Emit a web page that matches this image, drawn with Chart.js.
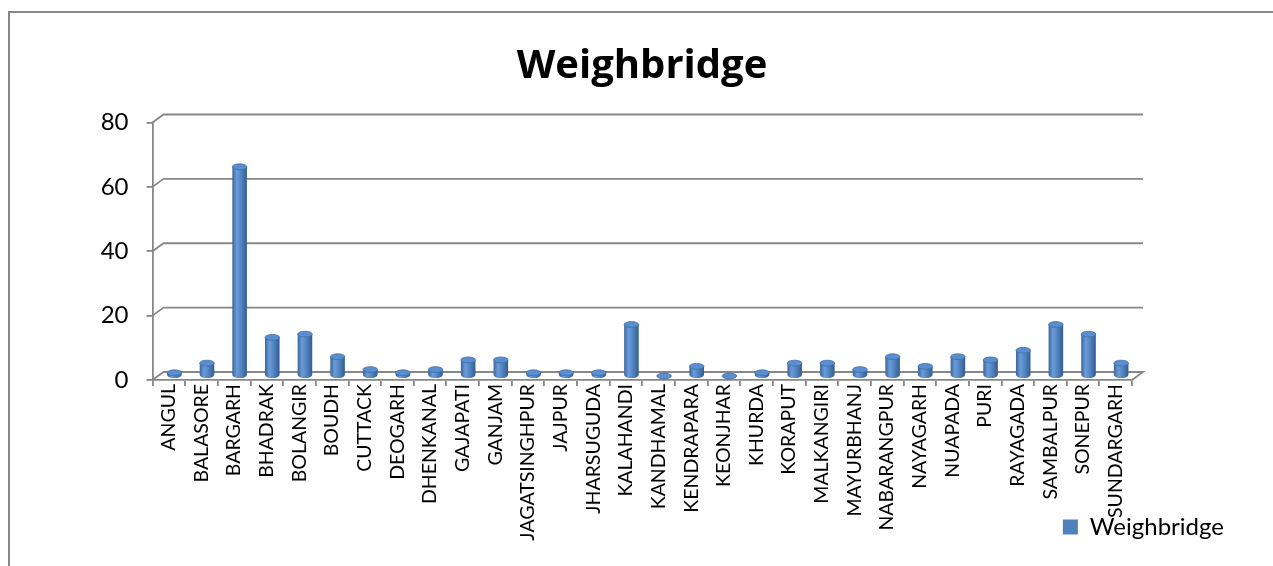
<!DOCTYPE html>
<html>
<head>
<meta charset="utf-8">
<script src="https://cdn.jsdelivr.net/npm/chart.js@4"></script>
<style>
  html, body { margin: 0; padding: 0; background: #fff; }
  #wrap { width: 1273px; height: 566px; position: relative; }
</style>
</head>
<body>
<div id="wrap"><canvas id="c" width="1273" height="566"></canvas></div>
<script>
// District names (Odisha) and number of weighbridges per district
const districts = [
  'ANGUL', 'BALASORE', 'BARGARH', 'BHADRAK', 'BOLANGIR', 'BOUDH', 'CUTTACK',
  'DEOGARH', 'DHENKANAL', 'GAJAPATI', 'GANJAM', 'JAGATSINGHPUR', 'JAJPUR',
  'JHARSUGUDA', 'KALAHANDI', 'KANDHAMAL', 'KENDRAPARA', 'KEONJHAR', 'KHURDA',
  'KORAPUT', 'MALKANGIRI', 'MAYURBHANJ', 'NABARANGPUR', 'NAYAGARH', 'NUAPADA',
  'PURI', 'RAYAGADA', 'SAMBALPUR', 'SONEPUR', 'SUNDARGARH'
];
const weighbridges = [
  1, 4, 65, 12, 13, 6, 2, 1, 2, 5, 5, 1, 1, 1, 16, 0, 3, 0, 1, 4,
  4, 2, 6, 3, 6, 5, 8, 16, 13, 4
];
const yTicks = [0, 20, 40, 60, 80];

const FONT = 'Lato';
const LINE = '#878787';
const DEPTH_X = 11, DEPTH_Y = -8;

// White page with the frame around the chart
const framePlugin = {
  id: 'frame',
  beforeDraw(chart) {
    const ctx = chart.ctx;
    ctx.save();
    ctx.fillStyle = '#ffffff';
    ctx.fillRect(0, 0, chart.width, chart.height);
    ctx.strokeStyle = LINE;
    ctx.lineWidth = 2;
    ctx.strokeRect(9, 12, chart.width + 20, chart.height + 20);
    ctx.restore();
  }
};

// The category labels hang below the axis box, over the legend band
const labelRoomPlugin = {
  id: 'labelRoom',
  afterLayout(chart) {
    chart.scales.x.bottom = chart.height;
  }
};

// Back wall gridlines and floor of the 3-D plot area
const wallPlugin = {
  id: 'wall',
  beforeDatasetsDraw(chart) {
    const ctx = chart.ctx;
    const y = chart.scales.y;
    const { left, right } = chart.chartArea;
    ctx.save();
    ctx.strokeStyle = LINE;
    ctx.lineWidth = 1.8;
    yTicks.forEach(v => {
      const py = y.getPixelForValue(v);
      ctx.beginPath();
      ctx.moveTo(left, py);
      ctx.lineTo(left + DEPTH_X, py + DEPTH_Y);
      ctx.lineTo(right + DEPTH_X, py + DEPTH_Y);
      if (v === 0) ctx.lineTo(right, py);
      ctx.stroke();
    });
    ctx.restore();
  }
};

// Columns rendered as shaded cylinders standing in the middle of the depth
const cylinderPlugin = {
  id: 'cylinders',
  beforeDatasetDraw() { return false; },
  afterDatasetsDraw(chart) {
    const ctx = chart.ctx;
    const meta = chart.getDatasetMeta(0);
    ctx.save();
    meta.data.forEach(bar => {
      const p = bar.getProps(['x', 'y', 'base', 'width'], true);
      const cx = p.x + DEPTH_X / 2;
      const rx = p.width / 2;
      const ry = p.width * 0.2;
      const top = p.y + DEPTH_Y / 2;
      const base = p.base + DEPTH_Y / 2;
      const g = ctx.createLinearGradient(cx - rx, 0, cx + rx, 0);
      g.addColorStop(0, '#3a659b');
      g.addColorStop(0.3, '#6b9cd8');
      g.addColorStop(0.55, '#5589c8');
      g.addColorStop(1, '#345d8e');
      if (base - top > 0.5) {
        ctx.beginPath();
        ctx.moveTo(cx - rx, top);
        ctx.lineTo(cx - rx, base);
        ctx.ellipse(cx, base, rx, ry, 0, Math.PI, 0, true);
        ctx.lineTo(cx + rx, top);
        ctx.closePath();
        ctx.fillStyle = g;
        ctx.fill();
      }
      ctx.beginPath();
      ctx.ellipse(cx, top, rx, ry, 0, 0, Math.PI * 2);
      ctx.fillStyle = '#5b8ed0';
      ctx.fill();
      ctx.lineWidth = 0.8;
      ctx.strokeStyle = '#3f6fa8';
      ctx.stroke();
    });
    ctx.restore();
  }
};

new Chart(document.getElementById('c'), {
  type: 'bar',
  data: {
    labels: districts,
    datasets: [{
      label: 'Weighbridge',
      data: weighbridges,
      backgroundColor: '#4F81BD',
      borderWidth: 0,
      barPercentage: 0.62,
      categoryPercentage: 0.72
    }]
  },
  options: {
    responsive: false,
    animation: false,
    devicePixelRatio: 1,
    layout: { padding: { left: 50, right: 39, top: 0, bottom: 17 } },
    plugins: {
      title: {
        display: true,
        text: 'Weighbridge',
        color: '#000',
        font: { family: 'Open Sans', size: 40, weight: 'bold' },
        padding: { top: 43, bottom: 31.5 }
      },
      legend: {
        position: 'bottom',
        align: 'end',
        labels: {
          color: '#000',
          font: { family: FONT, size: 24 },
          boxWidth: 15,
          boxHeight: 15,
          padding: 10
        }
      },
      tooltip: { enabled: false }
    },
    scales: {
      x: {
        grid: {
          drawOnChartArea: false,
          drawTicks: true,
          tickLength: 6,
          color: LINE,
          lineWidth: 1.8
        },
        border: { display: true, color: LINE, width: 1.8 },
        ticks: {
          color: '#000',
          font: { family: FONT, size: 19.5 },
          minRotation: 90,
          maxRotation: 90,
          autoSkip: false,
          padding: -2
        },
        afterFit(scale) { scale.height = 125; }
      },
      y: {
        min: 0,
        max: 80,
        afterBuildTicks(scale) { scale.ticks = yTicks.map(v => ({ value: v })); },
        grid: {
          drawOnChartArea: false,
          drawTicks: true,
          tickLength: 6,
          color: LINE,
          lineWidth: 1.8
        },
        border: { display: true, color: LINE, width: 1.8 },
        ticks: {
          color: '#000',
          font: { family: FONT, size: 24 },
          padding: 18
        },
        afterFit(scale) { scale.width = 102.5; }
      },
      side: {
        position: 'right',
        display: true,
        grid: { display: false },
        border: { display: false },
        ticks: { display: false },
        afterFit(scale) { scale.width = 102; }
      }
    }
  },
  plugins: [framePlugin, labelRoomPlugin, wallPlugin, cylinderPlugin]
});
</script>
</body>
</html>
